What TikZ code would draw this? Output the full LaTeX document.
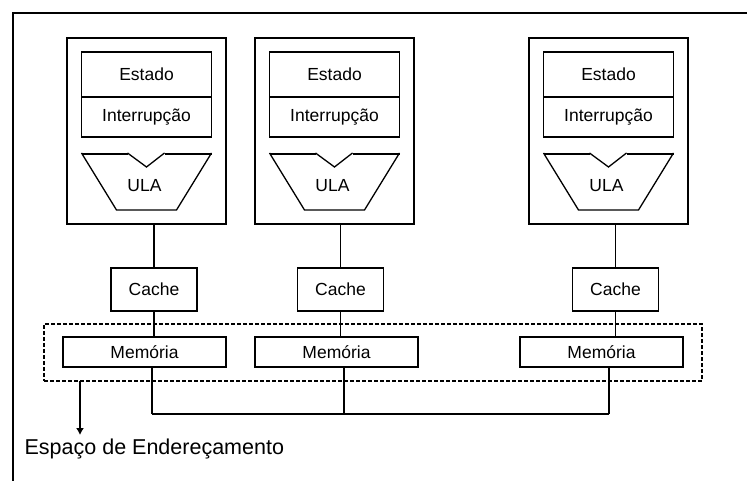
\documentclass[tikz,border=0pt]{standalone}
\usepackage{fontspec}
\setmainfont{Liberation Sans}
\usetikzlibrary{arrows.meta}
\begin{document}
\begin{tikzpicture}[x=1pt,y=-1pt,
  line width=1.3pt,
  box/.style={draw, rectangle, inner sep=0pt, font=\fontsize{17.5}{20}\selectfont},
  boldedge/.style={line width=2.8pt},
  space/.style={draw, rectangle, line width=1.2pt, dash pattern=on 4pt off 2pt, inner sep=0pt},
  label/.style={inner sep=0pt, font=\fontsize{21.5}{25}\selectfont}]
\useasboundingbox (0,0) rectangle (747,481);
% frame
\draw[line width=1.5pt] (13,481) -- (13,13) -- (747,13);
% address space
\node[space, minimum width=658, minimum height=57] (space) at (373,352.5) {};
\foreach \i/\cx/\kx/\mx in {1/146.5/154/144.5, 2/334.5/340.5/336.5, 3/608.5/615.5/601.5}{
  % processor
  \node[box, minimum width=159, minimum height=186] (cpu\i) at (\cx,131) {};
  \node[box, minimum width=130, minimum height=45] (est\i) at (\cx,74.5) {Estado};
  \node[box, minimum width=130, minimum height=40] (int\i) at (\cx,117) {Interrupção};
  % ALU outline
  \draw (\cx-65,153) -- (\cx-30,210) -- (\cx+30,210) -- (\cx+65,153);
  \draw (\cx-19,153) -- (\cx,167) -- (\cx+18,153);
  \draw[boldedge] (\cx-65,154) -- (\cx-19,154);
  \draw[boldedge] (\cx+18,154) -- (\cx+65,154);
  \node[inner sep=0pt, font=\fontsize{17.5}{20}\selectfont] (ula\i) at (\cx-2,186) {ULA};
  % cache and memory
  \node[box, minimum width=86, minimum height=43] (cache\i) at (\kx,289.5) {Cache};
  \node[box, minimum width=163, minimum height=30] (mem\i) at (\mx,352) {Memória};
  \coordinate (tap\i) at (\mx+7.5,414);
  \draw (cache\i.north) -- (cache\i.north |- cpu\i.south);
  \draw (cache\i.south) -- (cache\i.south |- mem\i.north);
  \draw (tap\i) -- (tap\i |- mem\i.south);
}
% bus
\draw (tap1) -- (tap3);
% label
\node[label, anchor=west] (lbl) at (24,449) {Espaço de Endereçamento};
\coordinate (arrowtop) at (80,381);
\coordinate (arrowend) at (80,435);
\draw[-{Latex[length=7pt,width=8pt]}] (arrowtop) -- (arrowend);
\end{tikzpicture}
\end{document}
